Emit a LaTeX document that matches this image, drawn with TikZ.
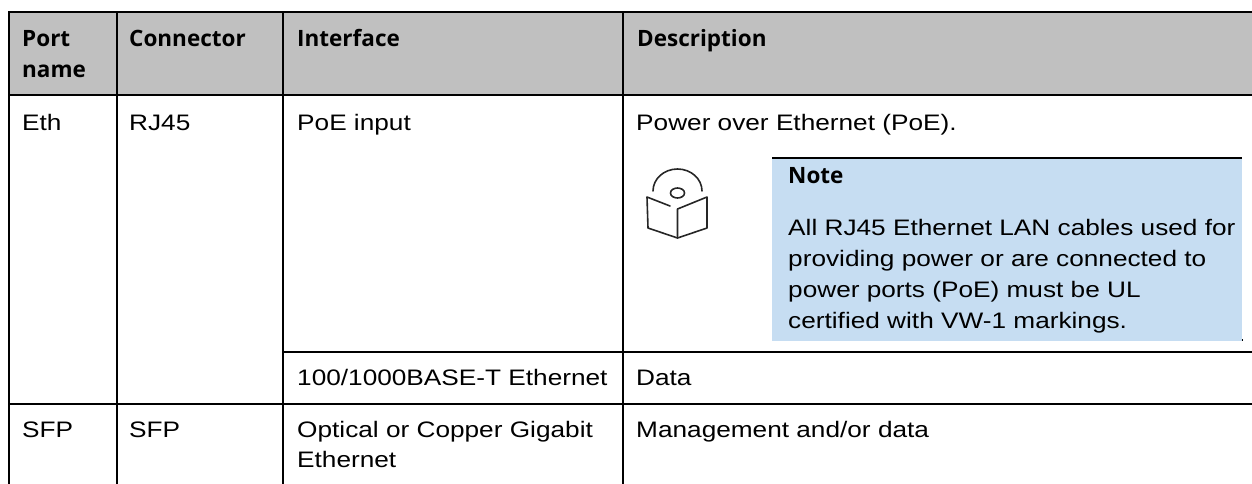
\documentclass[tikz,border=0pt]{standalone}
\usepackage{fontspec}
\setmainfont{Liberation Sans}[FakeStretch=1.17]
\newfontfamily\hfont{Open Sans}
\definecolor{hdrgray}{HTML}{C0C0C0}
\definecolor{noteblue}{HTML}{C6DDF2}
\begin{document}
\begin{tikzpicture}[x=1pt,y=-1pt,
  rule/.style={line width=2.2pt, line cap=rect},
  body/.style={anchor=base west, inner sep=0pt, font=\fontsize{22.4}{31.3}\selectfont},
  head/.style={anchor=base west, inner sep=0pt, font=\hfont\bfseries\fontsize{22.5}{30.5}\selectfont},
  icon/.style={line width=1.6pt, draw=black!85, line cap=round, line join=round}]
\useasboundingbox (0,0) rectangle (1252,483);
% header fill
\fill[hdrgray] (9,12) rectangle (1252,95);
% note box
\fill[noteblue] (772,158) rectangle (1242,341);
\draw[line width=1.6pt] (772,158) -- (1242,158);
\fill (1241.5,339) rectangle (1242.5,341);
% grid
\draw[rule] (9,12) -- (1252,12);
\draw[rule] (9,95) -- (1252,95);
\draw[rule] (9,12) -- (9,483);
\draw[rule] (117,12) -- (117,483);
\draw[rule] (283,12) -- (283,483);
\draw[rule] (623,12) -- (623,483);
\draw[rule] (283,352) -- (1252,352);
\draw[rule] (9,404) -- (1252,404);
% header texts
\node[head] (h1a) at (22,46.5) {Port};
\node[head] (h1b) at (22,77) {name};
\node[head] (h2) at (129,46.5) {Connector};
\node[head] (h3) at (297,46.5) {Interface};
\node[head] (h4) at (637,46.5) {Description};
% row 1
\node[body] (r1a) at (22,130) {Eth};
\node[body] (r1b) at (129,130) {RJ45};
\node[body] (r1c) at (297,130) {PoE input};
\node[body] (r1d) at (636,130) {Power over Ethernet (PoE).};
% note
\node[head] (nt) at (788,183) {Note};
\node[body] (n1) at (788,235) {All RJ45 Ethernet LAN cables used for};
\node[body] (n2) at (788,266) {providing power or are connected to};
\node[body] (n3) at (788,297) {power ports (PoE) must be UL};
\node[body] (n4) at (788,328) {certified with VW-1 markings.};
% icon
\draw[icon] (653,191) arc[start angle=180, end angle=360, x radius=24.5, y radius=22];
\draw[icon] (677.5,193) ellipse[x radius=7, y radius=5];
\draw[icon] (670,206) -- (647,197) -- (648,228) -- (677.5,238) -- (707,228) -- (707,197) -- (677.5,209) -- (677.5,236);
% row 2
\node[body] (r2c) at (297,385) {100/1000BASE-T Ethernet};
\node[body] (r2d) at (636,385) {Data};
% row 3
\node[body] (r3a) at (22,437) {SFP};
\node[body] (r3b) at (129,437) {SFP};
\node[body] (r3c) at (297,437) {Optical or Copper Gigabit};
\node[body] (r3c2) at (297,467) {Ethernet};
\node[body] (r3d) at (636,437) {Management and/or data};
\end{tikzpicture}
\end{document}
